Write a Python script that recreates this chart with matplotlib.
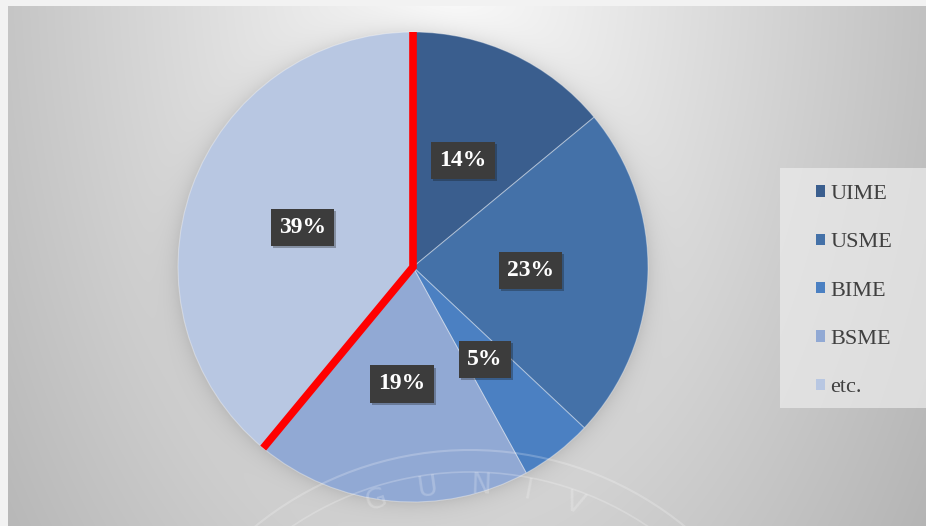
import numpy as np
import matplotlib
matplotlib.use("Agg")
import matplotlib.pyplot as plt
from matplotlib.patches import Patch, Arc, Rectangle
import matplotlib.patheffects as pe

# ---- data ----
categories = ["UIME", "USME", "BIME", "BSME", "etc."]
shares = [14, 23, 5, 19, 39]
colors = ["#3a5e8e", "#4471a8", "#4b80c2", "#91a9d4", "#b8c7e2"]
watermark_letters = ["G", "U", "N", "I", "V"]

W, H = 926, 526
fig = plt.figure(figsize=(W / 100, H / 100), dpi=100)

# ---- background (pixel coordinates) ----
bg = fig.add_axes([0, 0, 1, 1])
bg.set_xlim(0, W)
bg.set_ylim(H, 0)
bg.axis("off")
yy, xx = np.mgrid[0:H, 0:W]
d = np.sqrt(((xx - 450) / 470.0) ** 2 + ((yy + 40) / 800.0) ** 2)
val = 252 - 58 * np.clip(d, 0, 1.3)
cx, cy, R = 413, 267, 235
r = np.sqrt((xx - cx) ** 2 + (yy - cy) ** 2)
val -= 22 * np.exp(-np.clip(r - R, 0, None) / 10.0) * (r > R - 5)
val = np.clip(val, 0, 255) / 255.0
img = np.dstack([val, val, val])
img[:6, :, :] = 0.95
img[:, :8, :] = 0.95
bg.imshow(img, extent=(0, W, H, 0), aspect="auto", interpolation="bilinear")
bg.set_zorder(0)

# ---- pie ----
ax = fig.add_axes([(cx - R) / W, (H - cy - R) / H, 2 * R / W, 2 * R / H])
ax.set_zorder(1)
wedges, texts, autotexts = ax.pie(
    shares, colors=colors, startangle=90, counterclock=False, radius=1,
    autopct=lambda p: f"{p:.0f}%", pctdistance=0.5,
    wedgeprops=dict(edgecolor=(1, 1, 1, 0.35), linewidth=0.8),
    textprops=dict(color="white", fontsize=17, fontweight="bold",
                   family="Liberation Serif"))
for t in autotexts:
    t.set_bbox(dict(boxstyle="square,pad=0.34", facecolor="#3c3c3c",
                    edgecolor="none"))
    t.get_bbox_patch().set_path_effects(
        [pe.SimplePatchShadow(offset=(1.5, -1.5), alpha=0.3), pe.Normal()])

theta_end = np.deg2rad(90 - 360 * sum(shares[:4]) / sum(shares))
ax.plot([0, 0, np.cos(theta_end)], [1, 0, np.sin(theta_end)],
        color="#ff0000", linewidth=5.5, solid_capstyle="butt",
        solid_joinstyle="miter", zorder=5)
ax.set_xlim(-1, 1)
ax.set_ylim(-1, 1)
ax.axis("off")

# ---- overlay: watermark + legend box ----
ov = fig.add_axes([0, 0, 1, 1], facecolor="none")
ov.set_xlim(0, W)
ov.set_ylim(H, 0)
ov.axis("off")
ov.set_zorder(2)
for rad, lw in [(340, 1.5), (318, 1.2)]:
    ov.add_patch(Arc((470, 790), 2 * rad, 2 * rad, theta1=200, theta2=340,
                     color="white", alpha=0.22, lw=lw))
angs = np.deg2rad([-108, -98, -88, -79, -70])
for ch, a in zip(watermark_letters, angs):
    x = 470 + 305 * np.cos(a)
    y = 790 + 305 * np.sin(a)
    ov.text(x, y, ch, fontsize=20, color="white", alpha=0.22,
            family="DejaVu Sans", ha="center", va="center",
            rotation=-np.rad2deg(a) - 90)
ov.add_patch(Rectangle((780, 168), W - 780, 240, facecolor="#ececec",
                       alpha=0.7, edgecolor="none"))

# ---- legend ----
handles = [Patch(facecolor=c, edgecolor="none") for c in colors]
leg = fig.legend(handles, categories, loc="upper left",
                 bbox_to_anchor=(816 / W, 1 - 185 / H),
                 frameon=False,
                 prop=dict(family="Liberation Serif", size=16),
                 labelcolor="#404040", handlelength=0.4, handleheight=0.4,
                 handletextpad=0.25, labelspacing=1.32, borderpad=0,
                 borderaxespad=0)
leg.set_zorder(10)

fig.savefig("out.png", dpi=100)
